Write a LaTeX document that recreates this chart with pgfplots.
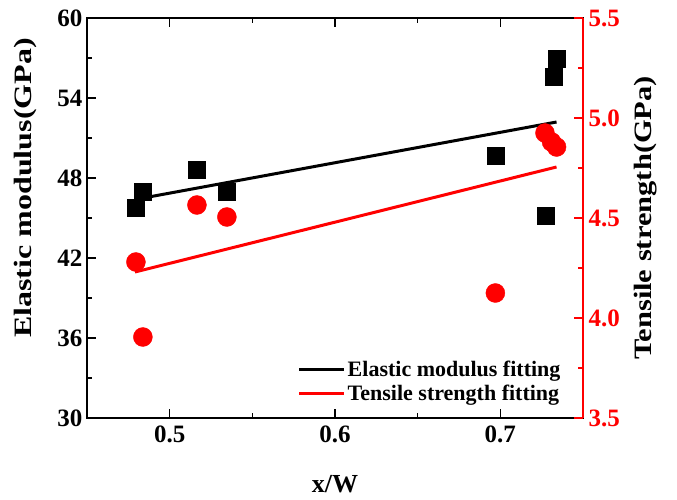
\documentclass[border=0pt]{standalone}
\usepackage{pgfplots}
\pgfplotsset{compat=1.18}
\usepackage{fontspec}
\setmainfont{Liberation Serif}
\begin{document}
\begin{tikzpicture}
\begin{axis}[
  name=ax1,
  scale only axis,
  width=496pt, height=400pt,
  xmin=0.45, xmax=0.75,
  ymin=30, ymax=60,
  xtick={0.5,0.6,0.7},
  ytick={30,36,42,48,54,60},
  minor x tick num=1,
  minor y tick num=1,
  xtick pos=both,
  ytick pos=left,
  tick align=inside,
  major tick length=9pt,
  minor tick length=5pt,
  axis line style={line width=1.6pt},
  every tick/.style={line width=1.4pt, black},
  /pgf/number format/assume math mode=true,
  /pgf/number format/fixed,
  /pgf/number format/precision=1,
  ticklabel style={font=\fontsize{25}{28}\selectfont\bfseries},
  xticklabel style={yshift=-4pt},
  yticklabel style={xshift=-1pt},
  xlabel={x/W},
  xlabel style={font=\fontsize{26}{30}\selectfont\bfseries, at={(axis description cs:0.5,-0.165)}, anchor=center},
  ylabel={\scalebox{1.28}[1]{Elastic modulus(GPa)}},
  ylabel style={font=\fontsize{25}{30}\selectfont\bfseries, at={(axis description cs:-0.125,0.575)}, anchor=center},
  clip=false,
]
\addplot[black, line width=3pt, no markers] coordinates {(0.4796,46.4) (0.734,52.2)};
\addplot[only marks, mark=square*, mark size=8.5pt, black] coordinates {
  (0.4796,45.75) (0.4838,46.95) (0.5165,48.6) (0.5346,47.0)
  (0.697,49.65) (0.7274,45.15) (0.732,55.58) (0.734,56.93)
};
\end{axis}
\begin{axis}[
  scale only axis,
  width=496pt, height=400pt,
  xmin=0.45, xmax=0.75,
  ymin=3.5, ymax=5.5,
  axis x line=none,
  axis y line*=right,
  ytick={3.5,4.0,4.5,5.0,5.5},
  minor y tick num=1,
  tick align=inside,
  major tick length=9pt,
  minor tick length=5pt,
  axis line style={line width=1.6pt, red},
  every tick/.style={line width=1.4pt, red},
  /pgf/number format/assume math mode=true,
  /pgf/number format/fixed,
  /pgf/number format/fixed zerofill,
  /pgf/number format/precision=1,
  yticklabel style={font=\fontsize{25}{28}\selectfont\bfseries, red, xshift=2pt},
  ylabel={\scalebox{1.22}[1]{Tensile strength(GPa)}},
  ylabel style={font=\fontsize{25}{30}\selectfont\bfseries, black, at={(axis description cs:1.127,0.5)}, anchor=center, rotate=0},
  legend style={at={(0.965,0.03)}, anchor=south east, draw=none, fill=none,
    font=\fontsize{22}{24}\selectfont\bfseries, row sep=3pt,
    legend cell align=left},
  legend image code/.code={\draw[#1, line width=3pt] (0pt,0pt) -- (45pt,0pt);},
  clip=false,
]
\addlegendimage{black, line width=3pt}
\addlegendentry{Elastic modulus fitting}
\addplot[red, line width=3pt, no markers] coordinates {(0.479,4.23) (0.734,4.755)};
\addlegendentry{Tensile strength fitting}
\addplot[only marks, mark=*, mark size=9.5pt, red, forget plot] coordinates {
  (0.4796,4.28) (0.4838,3.905) (0.5165,4.565) (0.5346,4.505)
  (0.697,4.125) (0.727,4.925) (0.731,4.88) (0.734,4.855)
};
\end{axis}
\pgfresetboundingbox
\path (ax1.south west) ++(-87pt,-82pt) rectangle ++(677pt,500pt);
\end{tikzpicture}
\end{document}
